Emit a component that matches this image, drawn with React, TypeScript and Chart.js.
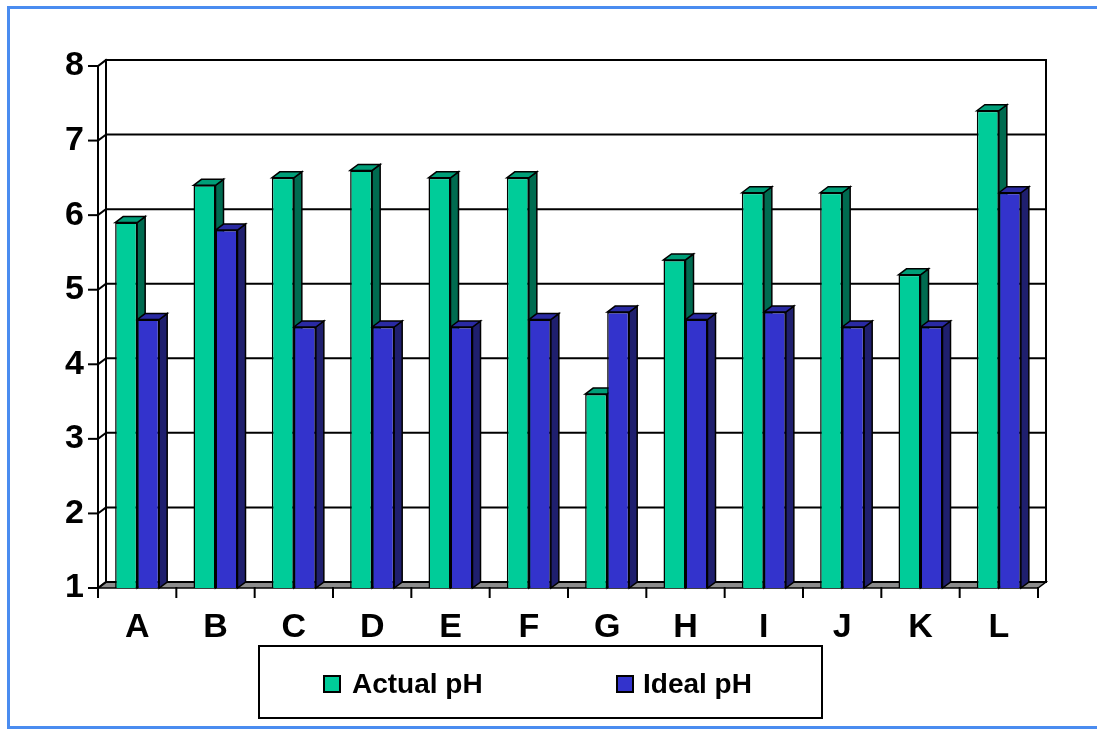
import React, { useEffect, useRef } from 'react';
import { Chart, registerables } from 'chart.js';

Chart.register(...registerables);

const categories = ['A', 'B', 'C', 'D', 'E', 'F', 'G', 'H', 'I', 'J', 'K', 'L'];
const actualPH = [5.9, 6.4, 6.5, 6.6, 6.5, 6.5, 3.6, 5.4, 6.3, 6.3, 5.2, 7.4];
const idealPH = [4.6, 5.8, 4.5, 4.5, 4.5, 4.6, 4.7, 4.6, 4.7, 4.5, 4.5, 6.3];
const seriesNames = ['Actual pH', 'Ideal pH'];
const yTickValues = [1, 2, 3, 4, 5, 6, 7, 8];

const FRONT = ['#00CC99', '#3333CC'];
const SIDE = ['#006B50', '#1F1F6E'];
const TOP = ['#009E78', '#2A2AA3'];
const DX = 8;
const DY = 6;

const threeD = {
  id: 'threeD',
  beforeDraw(chart: any) {
    const { ctx } = chart;
    ctx.save();
    ctx.fillStyle = '#fff';
    ctx.fillRect(0, 0, chart.width, chart.height);
    ctx.fillStyle = '#4A8CF0';
    ctx.fillRect(7, 6, 1090, 3);
    ctx.fillRect(7, 6, 3, 723);
    ctx.fillRect(7, 726, 1090, 3);
    ctx.restore();
  },
  beforeDatasetsDraw(chart: any) {
    const { ctx, chartArea } = chart;
    const ys = chart.scales.y;
    const L = chartArea.left;
    const R = chartArea.right;
    const B = chartArea.bottom;
    const T = ys.getPixelForValue(8);
    ctx.save();
    ctx.strokeStyle = '#000';
    ctx.lineWidth = 2;
    ctx.lineCap = 'square';
    // floor
    ctx.beginPath();
    ctx.moveTo(L, B);
    ctx.lineTo(R, B);
    ctx.lineTo(R + DX, B - DY);
    ctx.lineTo(L + DX, B - DY);
    ctx.closePath();
    ctx.fillStyle = '#8C8C8C';
    ctx.fill();
    ctx.lineWidth = 1.5;
    ctx.stroke();
    ctx.lineWidth = 2;
    // back wall grid lines, left wall diagonals, y ticks
    yTickValues.forEach((v) => {
      const y = ys.getPixelForValue(v);
      ctx.beginPath();
      ctx.moveTo(L + DX, y - DY);
      ctx.lineTo(R + DX, y - DY);
      ctx.stroke();
      ctx.beginPath();
      ctx.moveTo(L, y);
      ctx.lineTo(L + DX, y - DY);
      ctx.stroke();
      ctx.beginPath();
      ctx.moveTo(L - 9, y);
      ctx.lineTo(L, y);
      ctx.stroke();
    });
    // wall verticals
    ctx.beginPath();
    ctx.moveTo(L, T);
    ctx.lineTo(L, B);
    ctx.moveTo(L + DX, T - DY);
    ctx.lineTo(L + DX, B - DY);
    ctx.moveTo(R + DX, T - DY);
    ctx.lineTo(R + DX, B - DY);
    ctx.stroke();
    // x ticks
    const n = categories.length;
    const cw = (R - L) / n;
    for (let i = 0; i <= n; i++) {
      const x = L + i * cw;
      ctx.beginPath();
      ctx.moveTo(x, B);
      ctx.lineTo(x, B + 9);
      ctx.stroke();
    }
    // bar sides and tops
    ctx.lineWidth = 1.5;
    ctx.lineJoin = 'miter';
    for (let i = 0; i < n; i++) {
      for (let d = 0; d < 2; d++) {
        const el = chart.getDatasetMeta(d).data[i];
        if (!el) continue;
        const p = el.getProps(['x', 'y', 'base', 'width'], true);
        const x1 = p.x - p.width / 2;
        const x2 = p.x + p.width / 2;
        const yt = p.y;
        const yb = Math.min(p.base, B);
        ctx.beginPath();
        ctx.moveTo(x2, yt);
        ctx.lineTo(x2 + DX, yt - DY);
        ctx.lineTo(x2 + DX, yb - DY);
        ctx.lineTo(x2, yb);
        ctx.closePath();
        ctx.fillStyle = SIDE[d];
        ctx.fill();
        ctx.stroke();
        ctx.beginPath();
        ctx.moveTo(x1, yt);
        ctx.lineTo(x1 + DX, yt - DY);
        ctx.lineTo(x2 + DX, yt - DY);
        ctx.lineTo(x2, yt);
        ctx.closePath();
        ctx.fillStyle = TOP[d];
        ctx.fill();
        ctx.stroke();
      }
    }
    ctx.restore();
  },
  afterDraw(chart: any) {
    const { ctx } = chart;
    ctx.save();
    ctx.strokeStyle = '#000';
    ctx.lineWidth = 2;
    ctx.strokeRect(259, 646, 563, 72);
    const items = [
      { sx: 324, tx: 352 },
      { sx: 617, tx: 643 },
    ];
    ctx.font = 'bold 28px "Liberation Sans", Arial, sans-serif';
    ctx.textBaseline = 'alphabetic';
    ctx.textAlign = 'left';
    items.forEach((it, d) => {
      ctx.fillStyle = FRONT[d];
      ctx.fillRect(it.sx, 676, 16, 16);
      ctx.lineWidth = 2;
      ctx.strokeRect(it.sx, 676, 16, 16);
      ctx.fillStyle = '#000';
      ctx.fillText(seriesNames[d], it.tx, 693);
    });
    ctx.restore();
  },
};

export default function App() {
  const ref = useRef<HTMLCanvasElement | null>(null);
  useEffect(() => {
    document.body.style.margin = '0';
    document.documentElement.style.overflow = 'hidden';
    if (!ref.current) return;
    const chart = new Chart(ref.current, {
      type: 'bar',
      data: {
        labels: categories,
        datasets: [
          {
            label: seriesNames[0],
            data: actualPH,
            backgroundColor: FRONT[0],
            borderColor: '#000',
            borderWidth: 1.5,
            borderSkipped: false,
          },
          {
            label: seriesNames[1],
            data: idealPH,
            backgroundColor: FRONT[1],
            borderColor: '#000',
            borderWidth: 1.5,
            borderSkipped: false,
          },
        ],
      },
      options: {
        responsive: false,
        animation: false,
        events: [],
        layout: { padding: { top: 66, right: 59, bottom: 81, left: 0 } },
        datasets: { bar: { categoryPercentage: 0.562, barPercentage: 1 } },
        plugins: { legend: { display: false }, tooltip: { enabled: false } },
        scales: {
          x: {
            grid: { display: false, drawTicks: false },
            border: { display: false },
            ticks: {
              color: '#000',
              font: { family: '"Liberation Sans", Arial, sans-serif', size: 34, weight: 'bold' },
              padding: 19,
              maxRotation: 0,
            },
            afterFit: (s: any) => {
              s.height = 60;
            },
          },
          y: {
            min: 1,
            max: 8,
            grid: { display: false, drawTicks: false },
            border: { display: false },
            ticks: {
              stepSize: 1,
              color: '#000',
              font: { family: '"Liberation Sans", Arial, sans-serif', size: 34, weight: 'bold' },
              padding: 14,
            },
            afterFit: (s: any) => {
              s.width = 98;
            },
          },
        },
      },
      plugins: [threeD],
    });
    return () => chart.destroy();
  }, []);

  return (
    <div style={{ position: 'fixed', left: 0, top: 0, width: 1097, height: 729, overflow: 'hidden', background: '#fff' }}>
      <canvas ref={ref} width={1097} height={729} style={{ position: 'absolute', left: 0, top: 0 }} />
    </div>
  );
}
